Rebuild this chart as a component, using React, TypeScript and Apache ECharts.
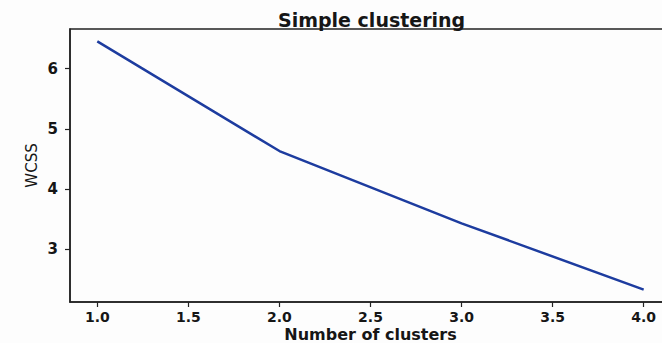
import React, { useEffect, useRef } from "react";
import * as echarts from "echarts";

const clusters = [1, 2, 3, 4];
const wcss = [6.45, 4.63, 3.43, 2.33];
const xTicks = [1.0, 1.5, 2.0, 2.5, 3.0, 3.5, 4.0];
const yTicks = [3, 4, 5, 6];
const titleText = "Simple clustering";
const xName = "Number of clusters";
const yName = "WCSS";

export default function App() {
  const ref = useRef<HTMLDivElement>(null);
  useEffect(() => {
    if (!ref.current) return;
    const chart = echarts.init(ref.current, null, { renderer: "svg" });
    const font = "'DejaVu Sans', sans-serif";
    chart.setOption({
      animation: false,
      backgroundColor: "#fdfdfd",
      title: {
        text: titleText,
        left: 273,
        top: 5,
        textStyle: { fontFamily: font, fontSize: 19, fontWeight: "bold", color: "#161616" },
      },
      grid: {
        left: 70,
        top: 29,
        right: -9,
        bottom: 41,
        outerBoundsMode: "none",
        containLabel: false,
        show: true,
        borderColor: "#222",
        borderWidth: 1.5,
        backgroundColor: "transparent",
      },
      xAxis: {
        type: "value",
        min: 0.85,
        max: 4.15,
        name: xName,
        nameLocation: "middle",
        nameGap: 27,
        nameMoveOverlap: false,
        nameTextStyle: { fontFamily: font, fontSize: 16, fontWeight: "bold", color: "#161616", lineHeight: 10 },
        axisLine: { show: true, lineStyle: { color: "#222", width: 1.5 } },
        axisTick: { show: true, length: 5, customValues: xTicks, lineStyle: { color: "#222", width: 1.2 } },
        axisLabel: {
          customValues: xTicks,
          margin: 10,
          formatter: (v: number) => v.toFixed(1),
          fontFamily: font,
          fontSize: 14,
          lineHeight: 10,
          fontWeight: "bold",
          color: "#161616",
        },
        splitLine: { show: false },
      },
      yAxis: {
        type: "value",
        min: 2.124,
        max: 6.656,
        name: yName,
        nameLocation: "middle",
        nameRotate: 90,
        nameGap: 31,
        nameMoveOverlap: false,
        nameTextStyle: { fontFamily: font, fontSize: 15, color: "#161616" },
        axisLine: { show: true, lineStyle: { color: "#222", width: 1.5 } },
        axisTick: { show: true, length: 5, customValues: yTicks, lineStyle: { color: "#222", width: 1.2 } },
        axisLabel: {
          customValues: yTicks,
          margin: 12,
          formatter: (v: number) => String(Math.round(v)),
          fontFamily: font,
          fontSize: 15,
          fontWeight: "bold",
          color: "#161616",
        },
        splitLine: { show: false },
      },
      series: [
        {
          type: "line",
          data: clusters.map((c, i) => [c, wcss[i]]),
          showSymbol: false,
          symbol: "none",
          lineStyle: { color: "#1d3c9f", width: 2.5 },
        },
      ],
    });
    return () => chart.dispose();
  }, []);
  return (
    <div
      ref={ref}
      style={{ position: "fixed", left: 0, top: 0, width: 662, height: 343, background: "#fdfdfd" }}
    />
  );
}
